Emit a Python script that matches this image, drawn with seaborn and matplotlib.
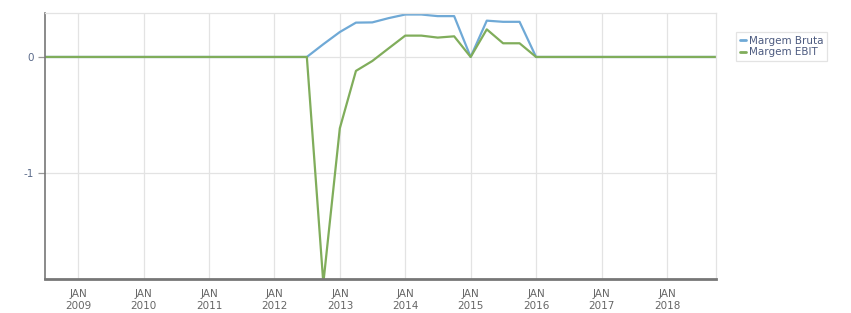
import matplotlib
matplotlib.use("Agg")
import matplotlib.pyplot as plt
import numpy as np
import pandas as pd
import seaborn as sns
from matplotlib.lines import Line2D

# Quarter-end dates from Jun 2008 to Sep 2018
dates = pd.date_range("2008-06-30", "2018-09-30", freq="QE")

margem_bruta = [0, 0, 0, 0, 0, 0, 0, 0, 0, 0, 0, 0, 0, 0, 0, 0,
                0, 0.11, 0.215, 0.296, 0.298, 0.335, 0.366, 0.366, 0.352, 0.352,
                0, 0.313, 0.303, 0.303, 0,
                0, 0, 0, 0, 0, 0, 0, 0, 0, 0, 0]
margem_ebit = [0, 0, 0, 0, 0, 0, 0, 0, 0, 0, 0, 0, 0, 0, 0, 0,
               0, -1.95, -0.615, -0.12, -0.035, 0.075, 0.184, 0.184, 0.167, 0.178,
               0, 0.238, 0.118, 0.118, 0,
               0, 0, 0, 0, 0, 0, 0, 0, 0, 0, 0]
series_names = ["Margem Bruta", "Margem EBIT"]
colors = ["#6fa9d6", "#80ad5b"]
y_ticks = [-1, 0]
x_tick_years = list(range(2009, 2019))

df = pd.DataFrame({
    "date": list(dates) * 2,
    "value": margem_bruta + margem_ebit,
    "serie": [series_names[0]] * len(dates) + [series_names[1]] * len(dates),
})

sns.set_style("white")
plt.rcParams["font.family"] = ["DejaVu Sans"]

fig = plt.figure(figsize=(8.51, 3.13), dpi=100)
ax = fig.add_axes([45 / 851, 1 - 279 / 313, (716 - 45) / 851, (279 - 13) / 313])

sns.lineplot(data=df, x="date", y="value", hue="serie", palette=colors,
             hue_order=series_names, linewidth=1.6, ax=ax, legend=False)

ax.set_xlim(dates[0], dates[-1])
ax.set_ylim(-1.914, 0.379)

xt = [pd.Timestamp(f"{y}-01-01") for y in x_tick_years]
ax.set_xticks(xt)
ax.set_xticklabels([f"JAN\n{y}" for y in x_tick_years], fontsize=7.5,
                   color="#666666", linespacing=1.3)
ax.set_yticks(y_ticks)
ax.set_yticklabels([str(v) for v in y_ticks], fontsize=7.5, color="#5a6a8a")

ax.grid(True, color="#e3e3e3", linewidth=0.9)
ax.set_axisbelow(True)
ax.set_xlabel("")
ax.set_ylabel("")

ax.spines["left"].set_color("#777777")
ax.spines["left"].set_linewidth(1.2)
ax.spines["bottom"].set_color("#777777")
ax.spines["bottom"].set_linewidth(2.0)
ax.spines["top"].set_color("#e3e3e3")
ax.spines["top"].set_linewidth(0.9)
ax.spines["right"].set_color("#e3e3e3")
ax.spines["right"].set_linewidth(0.9)

ax.tick_params(axis="x", length=4, width=0.9, color="#999999", pad=3)
ax.tick_params(axis="y", length=5, width=0.9, color="#999999", pad=3, left=True)

handles = [Line2D([0], [0], color=c, linewidth=2) for c in colors]
leg = fig.legend(handles, series_names, loc="upper left",
                 bbox_to_anchor=(731 / 851, 1 - 27 / 313), frameon=True,
                 fontsize=7.5, handlelength=0.6, handletextpad=0.3,
                 borderpad=0.35, labelspacing=0.15, fancybox=False)
leg.get_frame().set_edgecolor("#dddddd")
leg.get_frame().set_linewidth(0.9)
for t in leg.get_texts():
    t.set_color("#4d5b80")

fig.savefig("out.png", dpi=100)
